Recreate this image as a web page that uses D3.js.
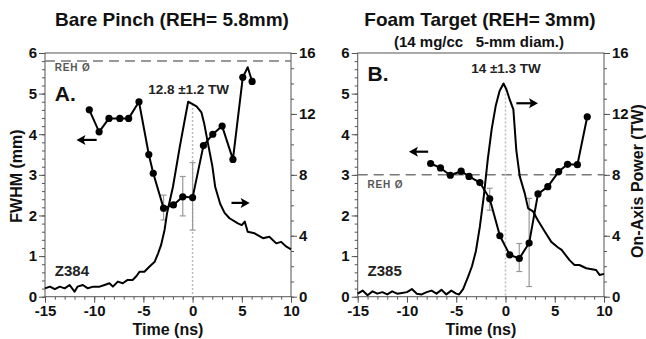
<!DOCTYPE html>
<html>
<head>
<meta charset="utf-8">
<script src="https://cdn.jsdelivr.net/npm/d3@7/dist/d3.min.js"></script>
<style>
  html, body { margin: 0; padding: 0; background: #fff; }
  svg { display: block; font-family: "Liberation Sans", Arial, Helvetica, sans-serif; font-weight: bold; }
</style>
</head>
<body>
<svg id="chart" width="646" height="339"></svg>
<script>
// ---- Panel A: bare pinch, shot Z384 ----
const fwhmTimeA = [-10.5, -9.5, -8.5, -7.4, -6.5, -5.45, -4.45, -4.0, -2.95, -1.95, -1.0, 0.0, 1.1, 2.05, 3.0, 4.1, 5.1, 5.6, 6.05];
const fwhmA     = [4.6, 4.06, 4.39, 4.39, 4.39, 4.8, 3.5, 3.04, 2.18, 2.26, 2.46, 2.44, 3.72, 4.0, 4.2, 3.38, 5.4, 5.65, 5.3];
const fwhmDotA  = [1, 1, 1, 1, 1, 1, 1, 1, 1, 1, 1, 1, 1, 1, 1, 1, 1, 0, 1];
const errTimeA  = [-2.95, -1.0, 0.0];
const errLowA   = [1.89, 1.99, 1.64];
const errHighA  = [2.5, 2.96, 3.3];
const powerTimeA = [-15.0, -14.5, -14.0, -13.5, -13.0, -12.5, -12.0, -11.7, -11.15, -10.65, -10.1, -9.45, -8.95, -8.45, -8.1, -7.6, -7.1, -6.6, -6.1, -5.7, -5.4, -4.9, -4.4, -3.85, -3.5, -3.2, -2.85, -2.6, -2.0, -1.3, -0.8, -0.45, 0.0, 0.4, 0.9, 1.2, 1.55, 2.0, 2.3, 2.8, 3.25, 3.75, 4.6, 5.0, 5.3, 5.6, 6.3, 7.15, 7.8, 8.5, 9.0, 9.5, 10.0];
const powerA     = [0.55, 0.66, 0.49, 0.66, 0.55, 0.77, 0.33, 0.66, 0.77, 0.55, 0.66, 0.66, 0.77, 0.88, 0.66, 0.99, 0.88, 1.1, 1.1, 1.36, 1.64, 1.64, 1.97, 2.3, 2.85, 3.4, 4.38, 5.48, 7.2, 9.85, 11.6, 12.8, 12.65, 12.5, 12.1, 11.3, 10.1, 8.6, 7.2, 6.1, 5.5, 5.15, 4.82, 4.7, 4.93, 4.27, 4.16, 3.84, 3.94, 3.5, 3.6, 3.3, 3.11];
const rehA = 5.8;

// ---- Panel B: foam target, shot Z385 ----
const fwhmTimeB = [-7.6, -6.6, -5.6, -4.5, -3.7, -2.6, -1.6, -0.57, 0.43, 1.4, 2.4, 3.3, 4.3, 5.4, 6.3, 7.3, 8.3];
const fwhmB     = [3.28, 3.17, 2.99, 3.09, 2.96, 2.81, 2.41, 1.5, 1.03, 0.94, 1.32, 2.53, 2.71, 3.08, 3.26, 3.25, 4.43];
const fwhmDotB  = fwhmTimeB.map(() => 1);
const errTimeB  = [-1.6, 1.4, 2.4];
const errLowB   = [2.13, 0.62, 0.25];
const errHighB  = [2.67, 1.31, 2.42];
const powerTimeB = [-15.0, -14.5, -14.0, -13.5, -13.0, -12.5, -12.0, -11.5, -11.0, -10.5, -10.0, -9.5, -9.0, -8.5, -8.0, -7.5, -7.0, -6.5, -6.0, -5.5, -5.0, -4.7, -4.3, -3.8, -3.4, -3.0, -2.6, -2.2, -1.8, -1.4, -1.0, -0.6, -0.2, 0.1, 0.45, 0.8, 1.1, 1.45, 1.95, 2.3, 2.8, 3.3, 4.0, 4.65, 5.3, 5.7, 6.5, 7.0, 7.5, 8.2, 9.2, 9.55, 10.0];
const powerB     = [0.2, 0.4, 0.1, 0.35, 0.2, 0.3, 0.15, 0.35, 0.2, 0.25, 0.3, 0.5, 0.2, 0.15, 0.3, 0.4, 0.2, 0.45, 0.15, 0.4, 0.2, 0.15, 0.5, 1.3, 2.0, 3.0, 4.6, 6.6, 9.0, 11.0, 12.5, 13.5, 14.0, 13.6, 12.9, 12.3, 9.6, 7.9, 6.8, 5.8, 5.6, 5.0, 4.27, 3.6, 3.25, 3.07, 2.4, 2.08, 2.08, 1.87, 1.75, 1.43, 1.5];
const rehB = 3.0;

// ---- axes ----
const timeTicks  = [-15, -10, -5, 0, 5, 10];
const fwhmTicks  = [0, 1, 2, 3, 4, 5, 6];
const powerTicks = [0, 4, 8, 12, 16];

const panels = [
  {
    left: 45, right: 291,
    title: "Bare Pinch (REH= 5.8mm)", titleX: 172, subtitle: null,
    letter: "A.", letterAt: [-14.0, 4.82],
    shot: "Z384", shotAt: [-14.0, 0.5],
    peakLabel: "12.8 \u00B11.2 TW", peakLabelAt: [-0.4, 4.98],
    rehLabelAt: [-14.0, 5.55],
    fwhmTime: fwhmTimeA, fwhm: fwhmA, dots: fwhmDotA,
    errTime: errTimeA, errLow: errLowA, errHigh: errHighA,
    powerTime: powerTimeA, power: powerA, reh: rehA,
    arrowLeft: [-9.75, -11.8, 3.86],   // FWHM arrow: tail t, head t, value (mm)
    arrowRight: [3.95, 5.8, 6.16],      // power arrow: tail t, head t, value (TW)
    yLabel: "FWHM (mm)", rightLabel: null
  },
  {
    left: 357.7, right: 604,
    title: "Foam Target (REH= 3mm)", titleX: 480, subtitle: "(14 mg/cc   5-mm diam.)",
    letter: "B.", letterAt: [-14.0, 5.3],
    shot: "Z385", shotAt: [-14.0, 0.5],
    peakLabel: "14 \u00B11.3 TW", peakLabelAt: [0.05, 5.5],
    rehLabelAt: [-14.0, 2.68],
    fwhmTime: fwhmTimeB, fwhm: fwhmB, dots: fwhmDotB,
    errTime: errTimeB, errLow: errLowB, errHigh: errHighB,
    powerTime: powerTimeB, power: powerB, reh: rehB,
    arrowLeft: [-7.85, -9.8, 3.57],
    arrowRight: [1.1, 3.3, 12.7],
    yLabel: null, rightLabel: "On-Axis Power (TW)"
  }
];

const svg = d3.select("#chart");
const plotTop = 53, plotBottom = 296.7;
const axisColor = "#555";

panels.forEach(p => {
  const x  = d3.scaleLinear().domain([-15, 10]).range([p.left, p.right]);
  const yL = d3.scaleLinear().domain([0, 6]).range([plotBottom, plotTop]);
  const yR = d3.scaleLinear().domain([0, 16]).range([plotBottom, plotTop]);
  const g = svg.append("g");

  // frame
  g.append("rect").attr("x", p.left).attr("y", plotTop)
    .attr("width", p.right - p.left).attr("height", plotBottom - plotTop)
    .attr("fill", "none").attr("stroke", axisColor).attr("stroke-width", 1);

  // minor ticks
  const bx = g.append("g").attr("transform", `translate(0,${plotBottom})`)
    .call(d3.axisBottom(x).tickValues(d3.range(-15, 10.01, 1)).tickSize(3).tickFormat(""));
  const ly = g.append("g").attr("transform", `translate(${p.left},0)`)
    .call(d3.axisLeft(yL).tickValues(d3.range(0, 6.01, 0.2)).tickSize(3).tickFormat(""));
  const ry = g.append("g").attr("transform", `translate(${p.right},0)`)
    .call(d3.axisRight(yR).tickValues(d3.range(0, 16.01, 1)).tickSize(3).tickFormat(""));
  [bx, ly, ry].forEach(a => { a.selectAll("path.domain").remove(); a.selectAll("line").attr("stroke", axisColor); });

  // major ticks with labels
  const bxM = g.append("g").attr("transform", `translate(0,${plotBottom})`)
    .call(d3.axisBottom(x).tickValues(timeTicks).tickSize(6).tickPadding(3).tickFormat(d => d));
  const lyM = g.append("g").attr("transform", `translate(${p.left},0)`)
    .call(d3.axisLeft(yL).tickValues(fwhmTicks).tickSize(6).tickPadding(2).tickFormat(d => d));
  const ryM = g.append("g").attr("transform", `translate(${p.right},0)`)
    .call(d3.axisRight(yR).tickValues(powerTicks).tickSize(6).tickPadding(2).tickFormat(d => d));
  [bxM, lyM, ryM].forEach(a => {
    a.selectAll("path.domain").remove();
    a.selectAll("line").attr("stroke", axisColor);
    a.selectAll("text").attr("fill", "#111").style("font-size", "15px")
      .style("font-family", "'Liberation Sans', Arial, sans-serif").style("font-weight", "bold");
  });

  // REH reference diameter
  g.append("line").attr("x1", p.left).attr("x2", p.right)
    .attr("y1", yL(p.reh)).attr("y2", yL(p.reh))
    .attr("stroke", "#777").attr("stroke-width", 1.5).attr("stroke-dasharray", "10,6");
  g.append("text").attr("x", x(p.rehLabelAt[0])).attr("y", yL(p.rehLabelAt[1]))
    .attr("fill", "#555").style("font-size", "10px").style("letter-spacing", "0.8px")
    .text("REH \u00D8");

  // t = 0 marker
  const i0 = p.powerTime.indexOf(d3.least(p.powerTime, t => Math.abs(t)));
  g.append("line").attr("x1", x(0)).attr("x2", x(0))
    .attr("y1", yR(p.power[i0])).attr("y2", plotBottom)
    .attr("stroke", "#bbb").attr("stroke-width", 1.5).attr("stroke-dasharray", "2,2");

  // error bars
  p.errTime.forEach((t, i) => {
    const e = g.append("g").attr("stroke", "#999").attr("stroke-width", 1.2);
    e.append("line").attr("x1", x(t)).attr("x2", x(t)).attr("y1", yL(p.errLow[i])).attr("y2", yL(p.errHigh[i]));
    [p.errLow[i], p.errHigh[i]].forEach(v =>
      e.append("line").attr("x1", x(t) - 3).attr("x2", x(t) + 3).attr("y1", yL(v)).attr("y2", yL(v)));
  });

  // on-axis power trace
  g.append("path")
    .datum(p.powerTime.map((t, i) => [t, p.power[i]]))
    .attr("fill", "none").attr("stroke", "#000").attr("stroke-width", 2).attr("stroke-linejoin", "round")
    .attr("d", d3.line().x(d => x(d[0])).y(d => yR(d[1])));

  // FWHM measurements
  const fw = p.fwhmTime.map((t, i) => [t, p.fwhm[i], p.dots[i]]);
  g.append("path").datum(fw)
    .attr("fill", "none").attr("stroke", "#000").attr("stroke-width", 2).attr("stroke-linejoin", "round")
    .attr("d", d3.line().x(d => x(d[0])).y(d => yL(d[1])));
  g.selectAll("circle.pt").data(fw.filter(d => d[2])).join("circle")
    .attr("class", "pt").attr("cx", d => x(d[0])).attr("cy", d => yL(d[1])).attr("r", 3.6).attr("fill", "#000");

  // axis direction arrows
  const arrow = (x1, x2, yy) => {
    const dir = Math.sign(x2 - x1);
    g.append("line").attr("x1", x1).attr("x2", x2 - dir * 4).attr("y1", yy).attr("y2", yy)
      .attr("stroke", "#000").attr("stroke-width", 2.2);
    g.append("path").attr("d", `M${x2},${yy} L${x2 - dir * 9},${yy - 5} L${x2 - dir * 7},${yy} L${x2 - dir * 9},${yy + 5} Z`)
      .attr("fill", "#000");
  };
  arrow(x(p.arrowLeft[0]), x(p.arrowLeft[1]), yL(p.arrowLeft[2]));
  arrow(x(p.arrowRight[0]), x(p.arrowRight[1]), yR(p.arrowRight[2]));

  // annotations
  g.append("text").attr("x", x(p.letterAt[0])).attr("y", yL(p.letterAt[1]))
    .style("font-size", "21px").attr("fill", "#111").text(p.letter);
  g.append("text").attr("x", x(p.shotAt[0])).attr("y", yL(p.shotAt[1]))
    .style("font-size", "15px").attr("fill", "#222").text(p.shot);
  g.append("text").attr("x", x(p.peakLabelAt[0])).attr("y", yL(p.peakLabelAt[1]))
    .attr("text-anchor", "middle").style("font-size", "13.5px").attr("fill", "#222").text(p.peakLabel);

  // titles and axis labels
  const cx = (p.left + p.right) / 2;
  g.append("text").attr("x", p.titleX).attr("y", 26).attr("text-anchor", "middle")
    .style("font-size", "19px").attr("fill", "#111").text(p.title);
  if (p.subtitle) g.append("text").attr("x", 479).attr("y", 46.5).attr("text-anchor", "middle")
    .style("font-size", "15px").style("white-space", "pre").attr("fill", "#111").text(p.subtitle);
  g.append("text").attr("x", cx).attr("y", 335).attr("text-anchor", "middle")
    .style("font-size", "16px").attr("fill", "#111").text("Time (ns)");
  if (p.yLabel) g.append("text").attr("transform", `translate(22,176) rotate(-90)`)
    .attr("text-anchor", "middle").style("font-size", "16px").attr("fill", "#111").text(p.yLabel);
  if (p.rightLabel) g.append("text").attr("transform", `translate(643,181) rotate(-90)`)
    .attr("text-anchor", "middle").style("font-size", "16px").attr("fill", "#111").text(p.rightLabel);
});
</script>
</body>
</html>
